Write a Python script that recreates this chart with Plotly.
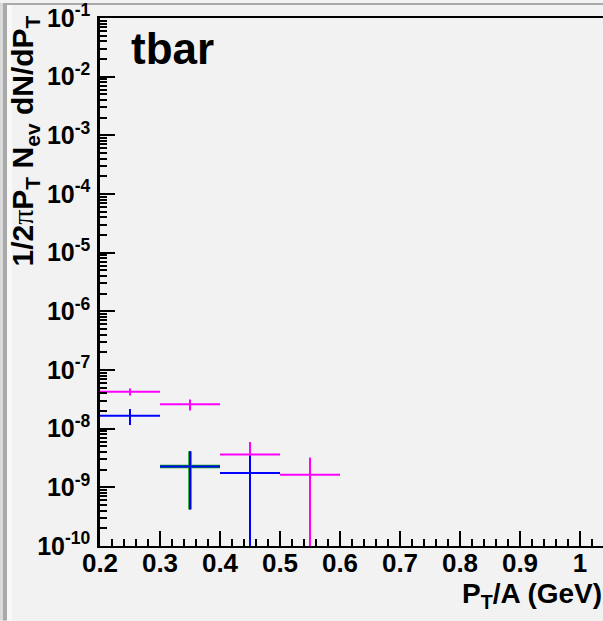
import numpy as np
import plotly.graph_objects as go

# ---- data ----
bin_halfwidth = 0.05

magenta_x = [0.25, 0.35, 0.45, 0.55]
magenta_y = [4.26e-8, 2.6e-8, 3.62e-9, 1.64e-9]
magenta_err = [0.6e-8, 0.55e-8, 2.3e-9, 1.6e-9]

green_x = [0.35]
green_y = [2.27e-9]
green_err = [1.85e-9]

blue_x = [0.25, 0.35, 0.45]
blue_y = [1.66e-8, 2.27e-9, 1.75e-9]
blue_err = [0.5e-8, 1.85e-9, 1.7e-9]

ytick_exp = list(range(-10, 0))
xtick_vals = [0.2, 0.3, 0.4, 0.5, 0.6, 0.7, 0.8, 0.9, 1.0]
xtick_text = ["0.2", "0.3", "0.4", "0.5", "0.6", "0.7", "0.8", "0.9", "1"]

FONT = "Liberation Sans, Arial, Helvetica, sans-serif"

# plot-area geometry (pixels)
L, T, B = 100, 15, 75
W, H = 603 - L, 621 - T - B


def py(pix):
    """pixel row -> paper y"""
    return (621 - B - pix) / H


def px(pix):
    return (pix - L) / W


def series(x, y, err, color, width):
    y = np.array(y)
    err = np.array(err)
    minus = np.minimum(err, y - 5e-11)
    return go.Scatter(
        x=x, y=y, mode="markers",
        marker=dict(size=0, opacity=0, color=color, line=dict(width=0)),
        error_x=dict(type="constant", value=bin_halfwidth, color=color,
                     thickness=width, width=0),
        error_y=dict(type="data", array=err, arrayminus=minus,
                     symmetric=False, color=color, thickness=width, width=0),
        showlegend=False, hoverinfo="skip",
    )


fig = go.Figure()
fig.add_trace(series(magenta_x, magenta_y, magenta_err, "#ff00ff", 2))
fig.add_trace(series(green_x, green_y, green_err, "#00a000", 3.5))
fig.add_trace(series(blue_x, blue_y, blue_err, "#0000ff", 2))

fig.update_layout(
    width=603, height=621,
    margin=dict(l=L, r=0, t=T, b=B),
    paper_bgcolor="#f2f2f2", plot_bgcolor="#f2f2f2",
    font=dict(family=FONT, color="black"),
)

fig.update_xaxes(
    range=[0.2, 0.2 + W / 600], showgrid=False, zeroline=False,
    showline=True, linecolor="black", linewidth=2, mirror=True,
    ticks="inside", ticklen=15, tickwidth=1.5, tickcolor="black",
    tickvals=xtick_vals, ticktext=["<b>%s</b>" % t for t in xtick_text],
    tickfont=dict(size=26, family=FONT), ticklabeloverflow="allow",
    ticklabelstandoff=-7,
    minor=dict(dtick=0.02, ticks="inside", ticklen=7, tickwidth=1.5,
               tickcolor="black", showgrid=False),
)

fig.update_yaxes(
    type="log", range=[-10, -1], showgrid=False, zeroline=False,
    showline=True, linecolor="black", linewidth=2.5, mirror=False,
    ticks="inside", ticklen=15, tickwidth=1.5, tickcolor="black",
    tickvals=[10.0 ** e for e in ytick_exp],
    ticktext=["<b>10<sup>%d</sup></b>" % e for e in ytick_exp],
    tickfont=dict(size=25, family=FONT), ticklabeloverflow="allow",
    ticklabelstandoff=2,
    minor=dict(dtick="D1", ticks="inside", ticklen=7, tickwidth=1.5,
               tickcolor="black", showgrid=False),
)

# canvas border strips
fig.add_shape(type="rect", xref="paper", yref="paper", layer="below",
              x0=px(0), x1=px(3), y0=py(621), y1=py(0),
              fillcolor="#dadada", line_width=0)
fig.add_shape(type="rect", xref="paper", yref="paper", layer="below",
              x0=px(3), x1=px(7), y0=py(621), y1=py(0),
              fillcolor="#a9a9a9", line_width=0)
fig.add_shape(type="rect", xref="paper", yref="paper", layer="below",
              x0=px(7), x1=px(12), y0=py(621), y1=py(2),
              fillcolor="#f9f9f9", line_width=0)
fig.add_shape(type="rect", xref="paper", yref="paper", layer="below",
              x0=px(3), x1=px(603), y0=py(2), y1=py(0),
              fillcolor="#a9a9a9", line_width=0)

# texts
fig.add_annotation(text="<b>tbar</b>", xref="paper", yref="paper",
                   x=px(129), y=py(46),
                   xanchor="left", yanchor="middle", showarrow=False,
                   font=dict(size=44, family=FONT, color="black"))
fig.add_annotation(
    text="<b>1/2<span style='font-family:Liberation Serif;font-weight:normal'>π</span>"
         "P<sub>T</sub> N<sub>ev</sub> dN/dP<sub>T</sub></b>",
    xref="paper", yref="paper", textangle=-90,
    x=px(25), y=py(11), xanchor="center", yanchor="top",
    showarrow=False,
    font=dict(size=30, family=FONT, color="black"))
fig.add_annotation(text="<b>P<sub>T</sub>/A (GeV)</b>", xref="paper", yref="paper",
                   x=px(604), y=py(596), xanchor="right", yanchor="middle",
                   showarrow=False,
                   font=dict(size=28, family=FONT, color="black"))

fig.write_html("out.html")
